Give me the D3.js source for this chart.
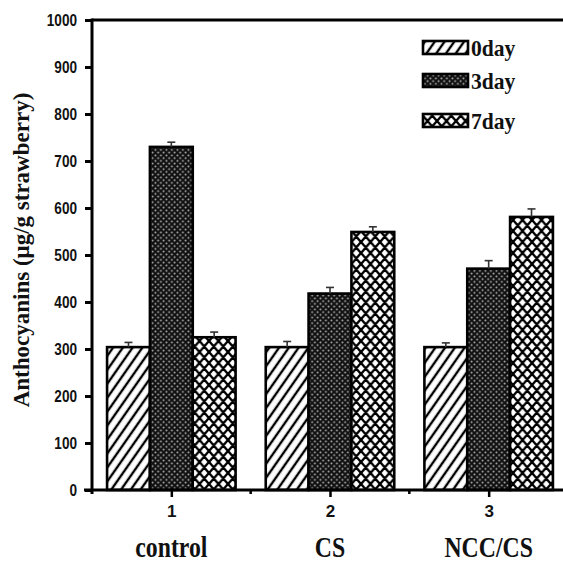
<!DOCTYPE html>
<html>
<head>
<meta charset="utf-8">
<script src="https://cdn.jsdelivr.net/npm/d3@7"></script>
<style>
  body { margin: 0; background: #fff; }
  svg { display: block; }
</style>
</head>
<body>
<div id="chart"></div>
<script>
var svgWidth = 563;
var svgHeight = 563;

// Data
var groups = ["control", "CS", "NCC/CS"];
var groupTicks = [1, 2, 3];
var series = ["0day", "3day", "7day"];
var day0 = [304, 304, 304];
var day3 = [730, 418, 471];
var day7 = [325, 549, 581];
var err0 = [10, 12, 9];
var err3 = [10, 13, 17];
var err7 = [11, 11, 17];
var yTicks = [0, 100, 200, 300, 400, 500, 600, 700, 800, 900, 1000];

var values = [day0, day3, day7];
var errors = [err0, err3, err7];

var margin = { top: 20, left: 92, bottom: 73 };
var plotRight = 568;
var plotBottom = svgHeight - margin.bottom;

var svg = d3.select("#chart")
  .append("svg")
  .attr("width", svgWidth)
  .attr("height", svgHeight);

// patterns
var defs = svg.append("defs");

var hatch = defs.append("pattern")
  .attr("id", "p0")
  .attr("patternUnits", "userSpaceOnUse")
  .attr("width", 8)
  .attr("height", 8)
  .attr("patternTransform", "rotate(35)");
hatch.append("rect").attr("width", 8).attr("height", 8).attr("fill", "#fff");
hatch.append("line")
  .attr("x1", 4).attr("y1", -1).attr("x2", 4).attr("y2", 9)
  .attr("stroke", "#000").attr("stroke-width", 2.4);

var dots = defs.append("pattern")
  .attr("id", "p1")
  .attr("patternUnits", "userSpaceOnUse")
  .attr("width", 5.5)
  .attr("height", 5.5);
dots.append("rect").attr("width", 5.5).attr("height", 5.5).attr("fill", "#111");
dots.append("circle").attr("cx", 1.4).attr("cy", 1.4).attr("r", 0.95).attr("fill", "#bbb");
dots.append("circle").attr("cx", 4.15).attr("cy", 4.15).attr("r", 0.95).attr("fill", "#bbb");

var cw = 9.5, ch = 11;
var cross = defs.append("pattern")
  .attr("id", "p2")
  .attr("patternUnits", "userSpaceOnUse")
  .attr("width", cw)
  .attr("height", ch);
cross.append("rect").attr("width", cw).attr("height", ch).attr("fill", "#fff");
cross.append("path")
  .attr("d",
    `M${-cw},${-ch}L${2 * cw},${2 * ch}` +
    `M${-cw},0L${cw},${2 * ch}M0,${-ch}L${2 * cw},${ch}` +
    `M${2 * cw},${-ch}L${-cw},${2 * ch}` +
    `M${-cw},${ch}L${cw},${-ch}M0,${2 * ch}L${2 * cw},0`)
  .attr("stroke", "#000").attr("stroke-width", 2.4).attr("fill", "none");

var fills = ["url(#p0)", "url(#p1)", "url(#p2)"];

// scales
var xScale = d3.scaleLinear()
  .domain([0.5, 3.5])
  .range([margin.left, plotRight]);

var yScale = d3.scaleLinear()
  .domain([0, 1000])
  .range([plotBottom, margin.top]);

var barW = 0.27;

// bars
series.forEach(function(s, si) {
  var g = svg.append("g");
  g.selectAll("rect")
    .data(values[si])
    .enter()
    .append("rect")
    .attr("x", (d, i) => xScale(groupTicks[i] + (si - 1) * barW - barW / 2))
    .attr("y", d => yScale(d))
    .attr("width", xScale(barW) - xScale(0))
    .attr("height", d => plotBottom - yScale(d))
    .attr("fill", fills[si])
    .attr("stroke", "#000")
    .attr("stroke-width", 2.6);

  // error bars (upper only)
  var eb = svg.append("g").attr("stroke", "#333").attr("stroke-width", 1.6);
  values[si].forEach(function(v, i) {
    var cx = xScale(groupTicks[i] + (si - 1) * barW);
    eb.append("line")
      .attr("x1", cx).attr("x2", cx)
      .attr("y1", yScale(v)).attr("y2", yScale(v + errors[si][i]));
    eb.append("line")
      .attr("x1", cx - 4).attr("x2", cx + 4)
      .attr("y1", yScale(v + errors[si][i])).attr("y2", yScale(v + errors[si][i]));
  });
});

// y axis
var yAxis = d3.axisLeft(yScale)
  .tickValues(yTicks)
  .tickSize(7)
  .tickPadding(8)
  .tickFormat(d3.format("d"));

var yg = svg.append("g")
  .attr("transform", `translate(${margin.left}, 0)`)
  .call(yAxis);
yg.select(".domain").attr("stroke-width", 3).attr("d", `M0,${margin.top - 1.5}V${plotBottom + 4}`);
yg.selectAll(".tick line").attr("stroke-width", 3);
yg.selectAll(".tick text")
  .attr("font-family", "Liberation Sans, Arial, sans-serif")
  .attr("font-size", 17)
  .attr("font-weight", "bold")
  .attr("fill", "#111")
  .attr("transform", "scale(0.8,1)")
  .attr("x", -15 / 0.8);

// x axis
var xAxis = d3.axisBottom(xScale)
  .tickValues(groupTicks)
  .tickSize(7)
  .tickPadding(8)
  .tickFormat(d3.format("d"));

var xg = svg.append("g")
  .attr("transform", `translate(0, ${plotBottom})`)
  .call(xAxis);
xg.select(".domain").attr("stroke-width", 3).attr("d", `M${margin.left - 8},0H${plotRight}`);
xg.selectAll(".tick line").attr("stroke-width", 2.5);
xg.selectAll(".tick text")
  .attr("font-family", "Liberation Sans, Arial, sans-serif")
  .attr("font-size", 17)
  .attr("font-weight", "bold")
  .attr("fill", "#111")
  .attr("y", 15);

// minor x ticks
xg.selectAll(".minor")
  .data([1.5, 2.5])
  .enter()
  .append("line")
  .attr("class", "minor")
  .attr("x1", d => xScale(d)).attr("x2", d => xScale(d))
  .attr("y1", 0).attr("y2", 4)
  .attr("stroke", "#000").attr("stroke-width", 2.5);

// top frame
svg.append("line")
  .attr("x1", margin.left).attr("x2", plotRight)
  .attr("y1", margin.top).attr("y2", margin.top)
  .attr("stroke", "#000").attr("stroke-width", 3);

// group labels
svg.append("g")
  .selectAll("text")
  .data(groups)
  .enter()
  .append("text")
  .attr("transform", (d, i) => `translate(${xScale(groupTicks[i])}, 557) scale(0.82,1)`)
  .attr("text-anchor", "middle")
  .attr("font-family", "Liberation Serif, Times New Roman, serif")
  .attr("font-weight", "bold")
  .attr("font-size", 29)
  .attr("fill", "#111")
  .text(d => d);

// y label
svg.append("text")
  .attr("transform", `translate(29, ${(margin.top + plotBottom) / 2 - 5}) rotate(-90)`)
  .attr("text-anchor", "middle")
  .attr("font-family", "Liberation Serif, Times New Roman, serif")
  .attr("font-weight", "bold")
  .attr("font-size", 23)
  .attr("fill", "#111")
  .text("Anthocyanins (μg/g strawberry)");

// legend
var legendY = [41, 74, 114];
var legend = svg.append("g");
series.forEach(function(s, si) {
  legend.append("rect")
    .attr("x", 423).attr("y", legendY[si])
    .attr("width", 45).attr("height", 13)
    .attr("fill", fills[si])
    .attr("stroke", "#000").attr("stroke-width", 2.6);
  legend.append("text")
    .attr("transform", `translate(471, ${legendY[si] + 15}) scale(0.9,1)`)
    .attr("font-family", "Liberation Serif, Times New Roman, serif")
    .attr("font-weight", "bold")
    .attr("font-size", 24)
    .attr("fill", "#111")
    .text(s);
});
</script>
</body>
</html>
